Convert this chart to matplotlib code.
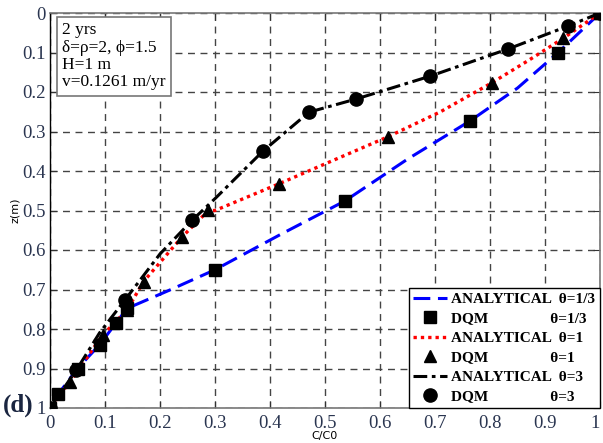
import matplotlib
matplotlib.use("Agg")
import matplotlib.pyplot as plt

# ---- data ----
# theta = 1/3
ana13_c = [1.0, 0.924, 0.85, 0.764, 0.65, 0.536, 0.42, 0.30, 0.22, 0.14, 0.12, 0.09, 0.05, 0.015, 0.0]
ana13_z = [0.0, 0.10, 0.19, 0.273, 0.37, 0.476, 0.56, 0.65, 0.70, 0.748, 0.785, 0.84, 0.90, 0.965, 1.0]
dqm13_c = [1.0, 0.924, 0.764, 0.536, 0.30, 0.14, 0.12, 0.09, 0.05, 0.015, 0.0]
dqm13_z = [0.0, 0.10, 0.273, 0.476, 0.65, 0.748, 0.785, 0.84, 0.90, 0.965, 1.0]

# theta = 1
ana1_c = [1.0, 0.933, 0.87, 0.803, 0.71, 0.615, 0.52, 0.417, 0.30, 0.288, 0.24, 0.17, 0.14, 0.096, 0.036, 0.0]
ana1_z = [0.0, 0.064, 0.12, 0.177, 0.25, 0.313, 0.37, 0.432, 0.50, 0.50, 0.567, 0.68, 0.752, 0.815, 0.934, 1.0]
dqm1_c = [1.0, 0.933, 0.803, 0.615, 0.417, 0.288, 0.24, 0.17, 0.14, 0.096, 0.036, 0.0]
dqm1_z = [0.0, 0.064, 0.177, 0.313, 0.432, 0.498, 0.567, 0.68, 0.752, 0.815, 0.934, 1.0]

# theta = 3
ana3_c = [1.0, 0.942, 0.833, 0.691, 0.556, 0.471, 0.387, 0.30, 0.259, 0.20, 0.136, 0.09, 0.048, 0.0]
ana3_z = [0.0, 0.033, 0.091, 0.16, 0.218, 0.251, 0.35, 0.47, 0.524, 0.61, 0.727, 0.81, 0.904, 1.0]
dqm3_c = [1.0, 0.942, 0.833, 0.691, 0.556, 0.471, 0.387, 0.259, 0.136, 0.048, 0.0]
dqm3_z = [0.0, 0.033, 0.091, 0.16, 0.218, 0.251, 0.35, 0.524, 0.727, 0.904, 1.0]

xticks = [0, 0.1, 0.2, 0.3, 0.4, 0.5, 0.6, 0.7, 0.8, 0.9, 1]
xtick_labels = ["0", "0.1", "0.2", "0.3", "0.4", "0.5", "0.6", "0.7", "0.8", "0.9", "1"]
yticks = [0, 0.1, 0.2, 0.3, 0.4, 0.5, 0.6, 0.7, 0.8, 0.9, 1]
ytick_labels = ["0", "0.1", "0.2", "0.3", "0.4", "0.5", "0.6", "0.7", "0.8", "0.9", "1"]

info_text = "2 yrs\nδ=ρ=2, ϕ=1.5\nH=1 m\nv=0.1261 m/yr"

serif = ["Liberation Serif", "DejaVu Serif"]
tickcol = "#2a3550"

fig = plt.figure(figsize=(6.03, 4.43), dpi=100)
ax = fig.add_axes([50/603, 1-408/443, 550/603, 395/443])

ax.plot(ana13_c, ana13_z, color="#0000ff", ls=(0, (5.5, 2.5)), lw=2.2,
        label="ANALYTICAL  θ=1/3", zorder=3)
ax.plot(dqm13_c, dqm13_z, ls="none", marker="s", ms=9, color="black",
        label="DQM                θ=1/3", zorder=4)
ax.plot(ana1_c, ana1_z, color="#ff0000", ls=(0, (1, 1.2)), lw=2.4,
        label="ANALYTICAL  θ=1", zorder=3)
ax.plot(dqm1_c, dqm1_z, ls="none", marker="^", ms=9, color="black",
        label="DQM                θ=1", zorder=4)
ax.plot(ana3_c, ana3_z, color="black", ls=(0, (4.5, 1.5, 1.2, 1.5)), lw=2.2,
        label="ANALYTICAL  θ=3", zorder=3)
ax.plot(dqm3_c, dqm3_z, ls="none", marker="o", ms=9.5, color="black",
        label="DQM                θ=3", zorder=4)

ax.set_xlim(0, 1)
ax.set_ylim(1, 0)
ax.set_xticks(xticks)
ax.set_xticklabels(xtick_labels, family=serif, fontsize=13.5, color=tickcol)
ax.set_yticks(yticks)
ax.set_yticklabels(ytick_labels, family=serif, fontsize=13.5, color=tickcol)
ax.tick_params(direction="in", top=True, right=True, length=5, width=0.8,
               color="#333333", pad=3)
ax.tick_params(axis="x", pad=5)
ax.get_xticklabels()[-1].set_horizontalalignment("right")
ax.grid(True, color="#444444", ls=(0, (5, 4)), lw=1.0)

for s in ["top", "right", "bottom"]:
    ax.spines[s].set_color("#777777")
    ax.spines[s].set_linewidth(1.2)
ax.spines["left"].set_color("black")
ax.spines["left"].set_linewidth(1.0)

ax.set_xlabel("C/C0", fontsize=8, labelpad=-1)
ax.set_ylabel("z(m)", fontsize=8, labelpad=2)

ax.text(0.022, 0.977, info_text, transform=ax.transAxes, ha="left", va="top",
        family=serif, fontsize=12.5, linespacing=1.12,
        bbox=dict(boxstyle="square,pad=0.3", fc="white", ec="#777777", lw=1.2))

leg = ax.legend(loc="lower right", prop=dict(family=serif, weight="bold", size=11),
                frameon=True, fancybox=False, edgecolor="black", framealpha=1,
                handlelength=2.2, handletextpad=0.3, borderpad=0.3,
                labelspacing=0.38, borderaxespad=0.0)
leg.get_frame().set_linewidth(1.0)

fig.text(3/603, 1-405/443, "(d)", family=serif, weight="bold", fontsize=18,
         ha="left", va="center", color="#1a2540")

fig.savefig("out.png", dpi=100)
